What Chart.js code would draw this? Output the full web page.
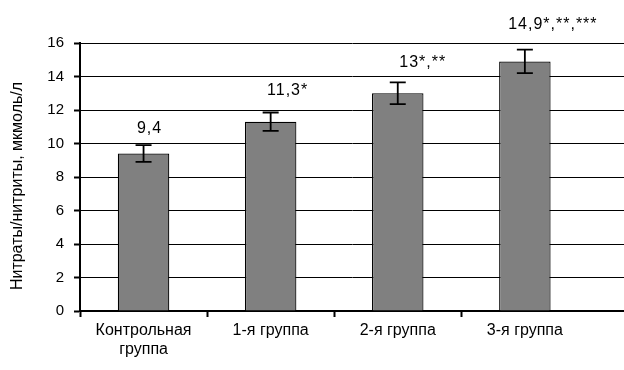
<!DOCTYPE html>
<html><head><meta charset="utf-8">
<script src="https://cdn.jsdelivr.net/npm/chart.js@4"></script>
<style>html,body{margin:0;padding:0;background:#fff;overflow:hidden}#w{position:relative;width:624px;height:370px}canvas{display:block}</style>
</head><body><div id="w"><canvas id="c"></canvas></div>
<script>
const categories = [["Контрольная", "группа"], "1-я группа", "2-я группа", "3-я группа"];
const values = [9.4, 11.3, 13.0, 14.9];
const errors = [0.5, 0.55, 0.65, 0.7];
const valueLabels = ["9,4", "11,3*", "13*,**", "14,9*,**,***"];
const yTicks = [0, 2, 4, 6, 8, 10, 12, 14, 16];
const yTitle = "Нитраты/нитриты, мкмоль/л";

const FONT = "'Liberation Sans', Arial, sans-serif";

const extras = {
  id: 'extras',
  afterDatasetsDraw(chart, args, opts) {
    const ctx = chart.ctx, xs = chart.scales.x, ys = chart.scales.y;
    ctx.save();
    ctx.strokeStyle = '#000'; ctx.lineWidth = 1.8;
    values.forEach((v, i) => {
      const x = xs.getPixelForValue(i);
      const yt = ys.getPixelForValue(v + errors[i]);
      const yb = ys.getPixelForValue(v - errors[i]);
      ctx.beginPath();
      ctx.moveTo(x, yt); ctx.lineTo(x, yb);
      ctx.moveTo(x - 8, yt); ctx.lineTo(x + 8, yt);
      ctx.moveTo(x - 8, yb); ctx.lineTo(x + 8, yb);
      ctx.stroke();
    });
    ctx.fillStyle = '#000';
    ctx.font = '16px ' + FONT;
    ctx.letterSpacing = '1px';
    ctx.textAlign = 'center'; ctx.textBaseline = 'middle';
    valueLabels.forEach((t, i) => {
      const x = xs.getPixelForValue(i) + opts.dx[i];
      const y = ys.getPixelForValue(values[i]) - opts.dy[i];
      ctx.fillText(t, x, y);
    });
    ctx.letterSpacing = '0px';
    ctx.font = '16px ' + FONT;
    ctx.translate(18, 186);
    ctx.rotate(-Math.PI / 2);
    ctx.fillText(yTitle, 0, 0);
    ctx.restore();
  }
};

new Chart(document.getElementById('c'), {
  type: 'bar',
  data: {
    datasets: [{
      data: values.map((v, i) => ({x: i, y: v})),
      backgroundColor: '#808080',
      borderColor: '#000',
      borderWidth: 1.2,
      categoryPercentage: 1,
      barPercentage: 0.405
    }]
  },
  plugins: [extras],
  options: {
    responsive: true,
    maintainAspectRatio: false,
    animation: false,
    layout: {padding: {top: 43, right: 0, left: 0, bottom: 0}},
    plugins: {
      legend: {display: false},
      tooltip: {enabled: false},
      extras: {dx: [6, 17, 25, 28], dy: [25, 31, 31, 37]}
    },
    scales: {
      x: {
        type: 'linear',
        offset: false,
        min: -0.5, max: 3.78,
        afterBuildTicks: s => { s.ticks = categories.map((c, i) => ({value: i})); },
        afterFit: s => { s.height = 59; s.paddingRight = 0; s.paddingLeft = 0; },
        border: {color: '#000', width: 2},
        grid: {
          offset: true, drawOnChartArea: false, tickLength: 6,
          tickColor: c => (c.type === 'tick' ? '#000' : 'rgba(0,0,0,0)'), tickWidth: 2
        },
        ticks: {
          color: '#000', font: {family: FONT, size: 16}, padding: 4, maxRotation: 0,
          autoSkip: false,
          callback: (v) => categories[v]
        }
      },
      y: {
        min: 0, max: 16,
        afterBuildTicks: s => { s.ticks = yTicks.map(v => ({value: v})); },
        afterFit: s => { s.width = 80; },
        border: {color: '#000', width: 2},
        grid: {color: '#000', lineWidth: 1, tickLength: 6, tickColor: '#000', tickWidth: 2},
        ticks: {color: '#000', font: {family: FONT, size: 15}, padding: 10}
      }
    }
  }
});
</script></body></html>
